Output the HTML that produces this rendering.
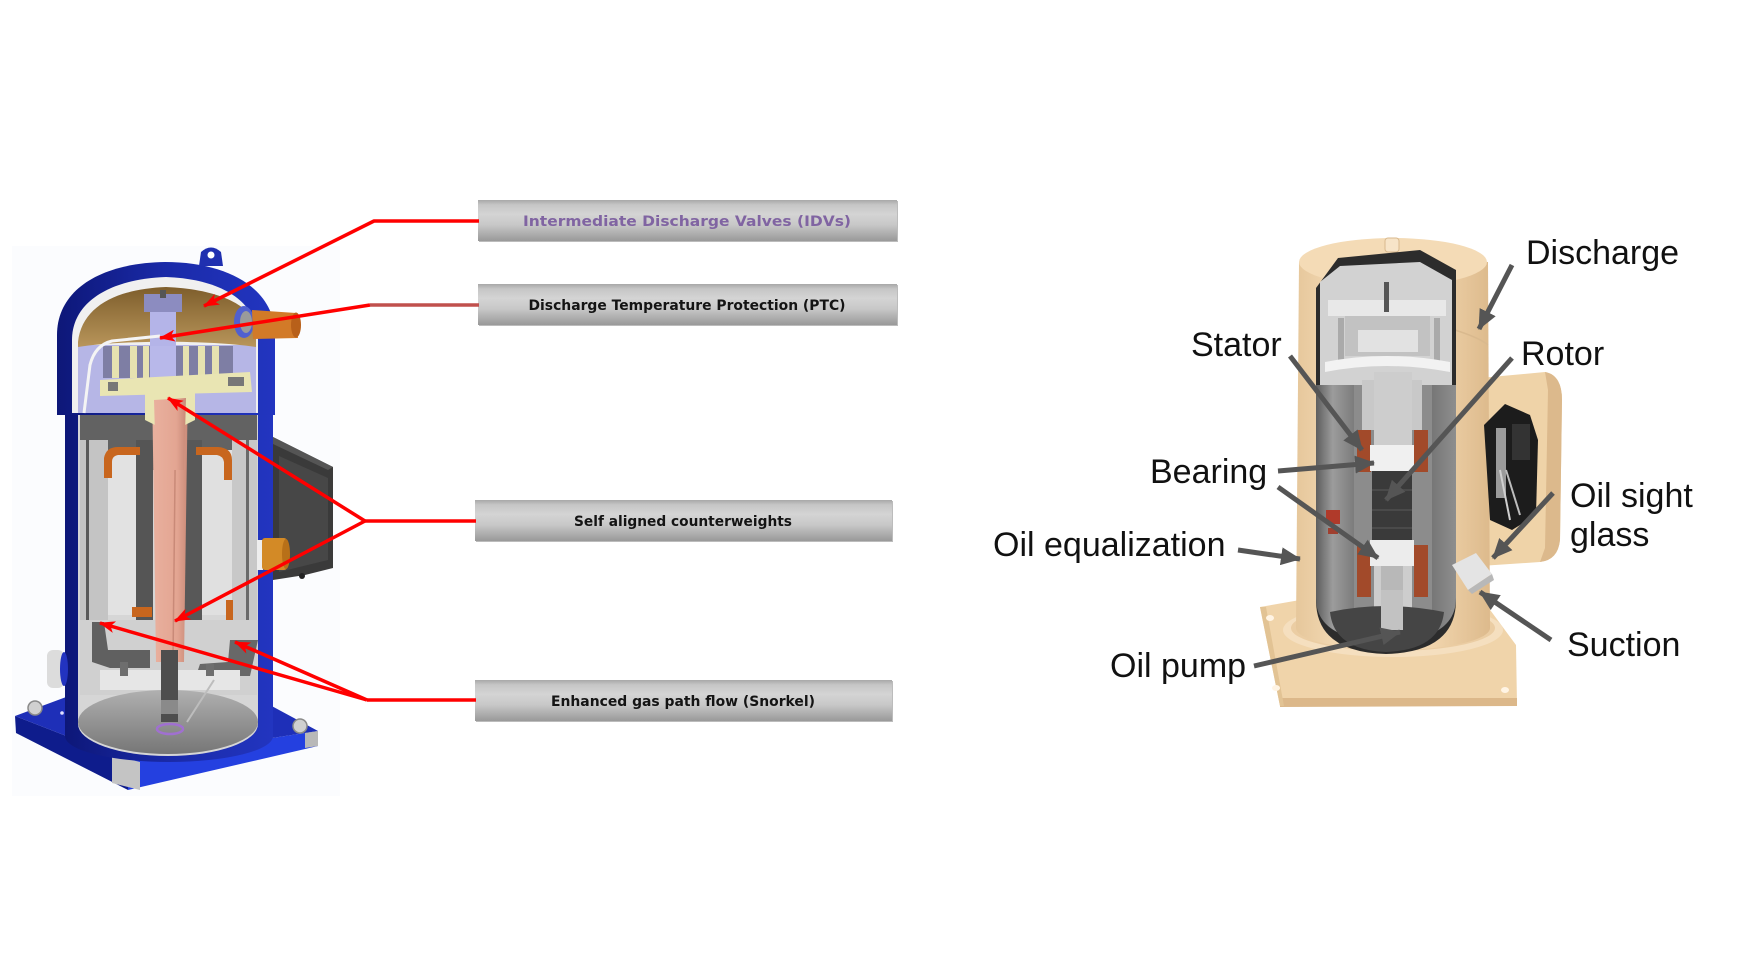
<!DOCTYPE html>
<html>
<head>
<meta charset="utf-8">
<style>
  html,body{margin:0;padding:0;background:#ffffff;}
  body{width:1750px;height:979px;overflow:hidden;}
  svg{display:block;}
  .bx{font-family:"DejaVu Sans","Liberation Sans",sans-serif;font-weight:bold;font-size:14.5px;fill:#141414;}
  .lb{font-family:"Liberation Sans",Arial,sans-serif;font-size:34px;fill:#111111;}
</style>
</head>
<body>
<svg width="1750" height="979" viewBox="0 0 1750 979" xmlns="http://www.w3.org/2000/svg">
  <defs>
    <linearGradient id="boxg" x1="0" y1="0" x2="0" y2="1">
      <stop offset="0" stop-color="#a8a8a8"/>
      <stop offset="0.12" stop-color="#c6c6c6"/>
      <stop offset="0.35" stop-color="#d4d4d4"/>
      <stop offset="0.6" stop-color="#c8c8c8"/>
      <stop offset="1" stop-color="#999999"/>
    </linearGradient>
    <linearGradient id="shellL" x1="0" y1="0" x2="1" y2="0">
      <stop offset="0" stop-color="#0d1778"/>
      <stop offset="0.5" stop-color="#1a2aa8"/>
      <stop offset="1" stop-color="#2235c0"/>
    </linearGradient>
    <linearGradient id="floorg" x1="0" y1="0" x2="0" y2="1">
      <stop offset="0" stop-color="#b0b0b0"/>
      <stop offset="1" stop-color="#767676"/>
    </linearGradient>
    <linearGradient id="browng" x1="0" y1="0" x2="0" y2="1">
      <stop offset="0" stop-color="#7e5e2c"/>
      <stop offset="1" stop-color="#b8955a"/>
    </linearGradient>
    <linearGradient id="beigeCyl" x1="0" y1="0" x2="1" y2="0">
      <stop offset="0" stop-color="#e6c79b"/>
      <stop offset="0.25" stop-color="#f5dcb8"/>
      <stop offset="0.7" stop-color="#f1d5ad"/>
      <stop offset="1" stop-color="#ddba8c"/>
    </linearGradient>
    <linearGradient id="motorg" x1="0" y1="0" x2="1" y2="0">
      <stop offset="0" stop-color="#5e5e5e"/>
      <stop offset="0.12" stop-color="#9c9c9c"/>
      <stop offset="0.28" stop-color="#7a7a7a"/>
      <stop offset="0.75" stop-color="#6c6c6c"/>
      <stop offset="1" stop-color="#8e8e8e"/>
    </linearGradient>
    <linearGradient id="pinkg" x1="0" y1="0" x2="1" y2="0">
      <stop offset="0" stop-color="#e9b09e"/>
      <stop offset="0.7" stop-color="#e3a592"/>
      <stop offset="1" stop-color="#c98a78"/>
    </linearGradient>
    <marker id="ra" markerWidth="16" markerHeight="12" refX="15" refY="6" orient="auto" markerUnits="userSpaceOnUse">
      <path d="M0,0 L16,6 L0,12 L4,6 z" fill="#ff0000"/>
    </marker>
    <marker id="ga" markerWidth="20" markerHeight="18" refX="19" refY="9" orient="auto" markerUnits="userSpaceOnUse">
      <path d="M0,0 L20,9 L0,18 z" fill="#555555"/>
    </marker>
  </defs>

  <!-- faint photo background left -->
  <rect x="12" y="246" width="328" height="550" fill="#fbfcfe"/>

  <!-- ================= LEFT COMPRESSOR ================= -->
  <!-- base plate -->
  <polygon points="15,716 128,760 128,790 16,733" fill="#0e1c8c"/>
  <polygon points="128,760 318,731 318,746 128,790" fill="#2440e0"/>
  <polygon points="15,716 85,690 255,697 318,731 128,760" fill="#1e2fb8"/>
  <polygon points="112,755 140,762 140,790 112,783" fill="#c4c4c4"/>
  <polygon points="305,733 318,731 318,746 305,748" fill="#b8b8b8"/>
  <circle cx="35" cy="708" r="7" fill="#d0d0d0" stroke="#8a8a8a" stroke-width="1.5"/>
  <circle cx="127" cy="750" r="7" fill="#d0d0d0" stroke="#8a8a8a" stroke-width="1.5"/>
  <circle cx="300" cy="726" r="7" fill="#d0d0d0" stroke="#8a8a8a" stroke-width="1.5"/>
  <circle cx="62" cy="713" r="1.8" fill="#e0e0ff"/>
  <circle cx="270" cy="729" r="1.8" fill="#e0e0ff"/>

  <!-- lower shell -->
  <path d="M65,400 L65,736 A104,26 0 0 0 273,736 L273,400 Z" fill="url(#shellL)"/>
  <path d="M78,395 L78,724 A90,32 0 0 0 258,724 L258,395 Z" fill="#d6d6d6"/>
  <!-- inner structure -->
  <rect x="80" y="395" width="177" height="75" fill="#626262"/>
  <rect x="80" y="440" width="28" height="215" fill="#c4c4c4"/>
  <rect x="86" y="440" width="3" height="215" fill="#5a5a5a"/>
  <rect x="108" y="450" width="28" height="165" fill="#e2e2e2"/>
  <rect x="136" y="440" width="17" height="200" fill="#555555"/>
  <rect x="183" y="440" width="19" height="200" fill="#585858"/>
  <rect x="202" y="450" width="30" height="165" fill="#e0e0e0"/>
  <rect x="232" y="440" width="25" height="215" fill="#c8c8c8"/>
  <rect x="246" y="440" width="3" height="215" fill="#6a6a6a"/>
  <!-- orange end turns -->
  <path d="M104,478 L104,458 Q106,447 118,447 L140,447 L140,455 L118,455 Q112,456 112,462 L112,478 Z" fill="#c8661e"/>
  <path d="M196,455 L196,447 L218,447 Q232,448 232,460 L232,480 L224,480 L224,462 Q223,456 217,455 Z" fill="#c8661e"/>
  <rect x="132" y="607" width="20" height="10" fill="#c8661e"/>
  <rect x="226" y="600" width="7" height="40" fill="#c8661e"/>
  <!-- lower bearing housing -->
  <rect x="80" y="620" width="177" height="75" fill="#d0d0d0"/>
  <path d="M92,622 L92,662 L110,668 L150,668 L150,650 L108,650 L104,622 Z" fill="#606060"/>
  <path d="M258,640 L230,640 L228,662 L200,664 L196,676 L250,676 Z" fill="#686868"/>
  <rect x="100" y="670" width="140" height="20" fill="#e6e6e6"/>
  <rect x="120" y="662" width="8" height="14" fill="#6e6e6e"/>
  <rect x="206" y="664" width="8" height="12" fill="#6e6e6e"/>
  <!-- floor -->
  <ellipse cx="168" cy="722" rx="90" ry="32" fill="url(#floorg)"/>
  <!-- shaft -->
  <polygon points="152,380 188,380 184,662 156,662" fill="url(#pinkg)"/>
  <line x1="176" y1="385" x2="173" y2="660" stroke="#c98a78" stroke-width="1.5"/>
  <rect x="161" y="650" width="17" height="72" fill="#4e4e4e"/>
  <rect x="161" y="700" width="17" height="14" fill="#8a8a8a"/>
  <ellipse cx="170" cy="729" rx="13" ry="5" fill="none" stroke="#a070d0" stroke-width="2.5"/>
  <line x1="214" y1="680" x2="187" y2="722" stroke="#bdbdbd" stroke-width="2"/>

  <!-- upper cap -->
  <path d="M57,415 L57,335 C57,290 100,263 165,262 C230,262 275,290 275,335 L275,415 Z" fill="url(#shellL)"/>
  <path d="M72,413 L72,340 C72,302 110,279 166,277 C222,279 258,302 258,340 L258,413 Z" fill="#f0f0f0"/>
  <path d="M78,413 L78,345 L256,345 L256,413 Z" fill="#b6b6e6"/>
  <path d="M78,342 C82,306 117,289 166,287 C216,289 250,304 256,326 L256,347 C210,340 120,340 78,347 Z" fill="url(#browng)"/>
  <!-- discharge column -->
  <rect x="150" y="300" width="26" height="75" fill="#b4b4e8"/>
  <rect x="144" y="294" width="38" height="18" fill="#8c8cc0"/>
  <rect x="160" y="290" width="6" height="8" fill="#555"/>
  <!-- fins -->
  <rect x="103" y="346" width="130" height="32" fill="#7e7ea4"/>
  <rect x="112" y="346" width="7" height="32" fill="#e6e2b0"/>
  <rect x="130" y="346" width="7" height="32" fill="#e6e2b0"/>
  <rect x="143" y="346" width="6" height="32" fill="#e6e2b0"/>
  <rect x="183" y="346" width="6" height="32" fill="#e6e2b0"/>
  <rect x="198" y="346" width="7" height="32" fill="#e6e2b0"/>
  <rect x="212" y="346" width="7" height="32" fill="#e6e2b0"/>
  <rect x="150" y="346" width="26" height="32" fill="#b8b8ea"/>
  <!-- yellow plate -->
  <polygon points="100,380 250,372 252,392 100,396" fill="#e9e5b3"/>
  <polygon points="145,394 195,392 195,420 185,425 155,425 145,420" fill="#e9e5b3"/>
  <polygon points="154,400 186,398 184,470 156,470" fill="url(#pinkg)"/>
  <rect x="228" y="377" width="16" height="9" fill="#777"/>
  <rect x="108" y="382" width="10" height="9" fill="#777"/>
  <!-- white tube -->
  <path d="M160,336 L112,341 Q95,345 90,365 L84,413" fill="none" stroke="#f4f4f4" stroke-width="3"/>
  <!-- mounting tab -->
  <path d="M199,266 L201,252 Q211,243 221,252 L223,266 Z" fill="#2030b0"/>
  <circle cx="211" cy="255" r="3.5" fill="#ffffff"/>
  <!-- discharge fitting -->
  <ellipse cx="244" cy="322" rx="10" ry="16" fill="#5060d0"/>
  <ellipse cx="246" cy="322" rx="6" ry="11" fill="#9a9a9a"/>
  <polygon points="252,310 296,313 298,338 253,339" fill="#d27a28"/>
  <ellipse cx="296" cy="325" rx="5" ry="12.5" fill="#b8601a"/>
  <!-- terminal box -->
  <polygon points="273,437 333,467 333,568 305,575 273,580" fill="#3a3a3a"/>
  <polygon points="279,456 328,478 328,560 279,572" fill="#474747"/>
  <polygon points="273,437 333,467 328,470 273,444" fill="#555"/>
  <circle cx="302" cy="576" r="3" fill="#222"/>
  <!-- right orange fitting -->
  <rect x="257" y="540" width="6" height="30" fill="#eeeeee"/>
  <rect x="262" y="538" width="25" height="32" rx="3" fill="#d38a26"/>
  <ellipse cx="286" cy="554" rx="4" ry="15" fill="#b87018"/>
  <!-- left fitting -->
  <rect x="47" y="650" width="17" height="38" rx="6" fill="#dcdcdc"/>
  <ellipse cx="64" cy="669" rx="4" ry="17" fill="#2233c0"/>

  <!-- ================= CALLOUT BOXES ================= -->
  <rect x="479" y="201" width="419" height="41" fill="#bcbcbc"/>
  <rect x="478" y="200" width="419" height="41" fill="url(#boxg)"/>
  <rect x="479" y="285" width="419" height="41" fill="#bcbcbc"/>
  <rect x="478" y="284" width="419" height="41" fill="url(#boxg)"/>
  <rect x="476" y="501" width="417" height="41" fill="#bcbcbc"/>
  <rect x="475" y="500" width="417" height="41" fill="url(#boxg)"/>
  <rect x="476" y="681" width="417" height="41" fill="#bcbcbc"/>
  <rect x="475" y="680" width="417" height="41" fill="url(#boxg)"/>

  <text class="bx" x="687" y="226" text-anchor="middle" textLength="328" lengthAdjust="spacingAndGlyphs" style="fill:#8064a2">Intermediate Discharge Valves (IDVs)</text>
  <text class="bx" x="687" y="310" text-anchor="middle" textLength="317" lengthAdjust="spacingAndGlyphs">Discharge Temperature Protection (PTC)</text>
  <text class="bx" x="683" y="526" text-anchor="middle" textLength="218" lengthAdjust="spacingAndGlyphs">Self aligned counterweights</text>
  <text class="bx" x="683" y="706" text-anchor="middle" textLength="264" lengthAdjust="spacingAndGlyphs">Enhanced gas path flow (Snorkel)</text>

  <!-- red leaders -->
  <g fill="none" stroke="#ff0000" stroke-width="3.5" stroke-linejoin="round">
    <polyline points="479,221 374,221 204,306" marker-end="url(#ra)"/>
    <line x1="370" y1="305" x2="160" y2="338" marker-end="url(#ra)"/>
    <line x1="476" y1="521" x2="365" y2="521"/>
    <line x1="365" y1="521" x2="168" y2="398" marker-end="url(#ra)"/>
    <line x1="365" y1="521" x2="175" y2="621" marker-end="url(#ra)"/>
    <line x1="476" y1="700" x2="367" y2="700"/>
    <line x1="367" y1="700" x2="100" y2="623" marker-end="url(#ra)"/>
    <line x1="367" y1="700" x2="235" y2="642" marker-end="url(#ra)"/>
  </g>
  <line x1="370" y1="305" x2="479" y2="305" stroke="#c0504d" stroke-width="3.5"/>

  <!-- ================= RIGHT COMPRESSOR ================= -->
  <!-- base plate -->
  <polygon points="1260,607 1300,600 1485,603 1516,645 1517,705 1280,706" fill="#f0d4aa"/>
  <polygon points="1280,698 1517,698 1517,706 1280,707" fill="#dcb88a"/>
  <polygon points="1260,607 1280,706 1284,706 1266,607" fill="#e2c394"/>
  <ellipse cx="1276" cy="688" rx="4" ry="3" fill="#fff4e4"/>
  <ellipse cx="1505" cy="690" rx="4" ry="3" fill="#fff4e4"/>
  <ellipse cx="1270" cy="618" rx="4" ry="3" fill="#fff4e4"/>
  <!-- flange ring -->
  <ellipse cx="1393" cy="630" rx="110" ry="27" fill="#f5dfbf"/>
  <ellipse cx="1393" cy="628" rx="102" ry="23" fill="#ebcda3"/>
  <!-- terminal box -->
  <path d="M1480,378 L1545,372 Q1562,375 1562,400 L1560,540 Q1558,560 1540,562 L1480,566 Z" fill="#efd3a8"/>
  <path d="M1545,372 Q1562,375 1562,400 L1560,540 Q1558,560 1540,562 L1545,548 L1548,390 Z" fill="#dcb98c"/>
  <!-- cylinder -->
  <path d="M1299,262 L1296,628 A97,22 0 0 0 1490,628 L1488,262 Z" fill="url(#beigeCyl)"/>
  <ellipse cx="1393" cy="262" rx="94" ry="24" fill="#f4dbb6"/>
  <rect x="1385" y="238" width="14" height="14" rx="3" fill="#f7e4c8" stroke="#d8b98e" stroke-width="1"/>
  <path d="M1455,330 Q1480,338 1488,345" fill="none" stroke="#d9b98e" stroke-width="1.5"/>
  <!-- terminal box opening -->
  <path d="M1484,425 L1505,404 L1530,415 L1538,440 L1536,515 L1512,530 L1490,520 Z" fill="#1c1c1c"/>
  <rect x="1496" y="428" width="10" height="70" fill="#9a9a9a"/>
  <rect x="1512" y="424" width="18" height="36" fill="#333"/>
  <line x1="1500" y1="470" x2="1510" y2="520" stroke="#cfcfcf" stroke-width="2"/>
  <line x1="1506" y1="470" x2="1520" y2="515" stroke="#bdbdbd" stroke-width="2"/>
  <!-- cutaway interior -->
  <path d="M1316,288 L1338,258 L1420,250 L1456,270 L1456,600 Q1456,652 1386,654 Q1316,652 1316,600 Z" fill="#2c2c2c"/>
  <!-- upper mechanism -->
  <path d="M1320,282 L1340,266 L1420,262 L1452,280 L1452,390 L1320,390 Z" fill="#d2d2d2"/>
  <rect x="1328" y="300" width="118" height="16" fill="#e8e8e8"/>
  <rect x="1345" y="316" width="85" height="40" fill="#c2c2c2"/>
  <rect x="1358" y="330" width="60" height="22" fill="#e2e2e2"/>
  <rect x="1384" y="282" width="5" height="30" fill="#555"/>
  <rect x="1338" y="318" width="6" height="50" fill="#aaaaaa"/>
  <rect x="1434" y="318" width="6" height="50" fill="#aaaaaa"/>
  <path d="M1325,362 Q1386,350 1450,362 L1450,372 Q1386,360 1325,372 Z" fill="#f2f2f2"/>
  <!-- motor shell -->
  <path d="M1316,385 L1456,385 L1456,598 Q1456,640 1386,642 Q1316,640 1316,598 Z" fill="url(#motorg)"/>
  <!-- motor cutaway inside -->
  <path d="M1354,385 L1432,385 L1432,610 L1354,610 Z" fill="#8c8c8c"/>
  <rect x="1362" y="380" width="60" height="50" fill="#c8c8c8"/>
  <rect x="1374" y="372" width="38" height="275" fill="#cdcdcd"/>
  <rect x="1357" y="430" width="14" height="42" fill="#a24a2a"/>
  <rect x="1414" y="430" width="14" height="42" fill="#a24a2a"/>
  <rect x="1357" y="545" width="14" height="52" fill="#a24a2a"/>
  <rect x="1414" y="545" width="14" height="52" fill="#a24a2a"/>
  <rect x="1370" y="445" width="44" height="26" fill="#f0f0f0"/>
  <rect x="1372" y="471" width="40" height="72" fill="#3a3a3a"/>
  <line x1="1372" y1="490" x2="1412" y2="490" stroke="#4a4a4a" stroke-width="2"/>
  <line x1="1372" y1="510" x2="1412" y2="510" stroke="#4a4a4a" stroke-width="2"/>
  <line x1="1372" y1="528" x2="1412" y2="528" stroke="#4a4a4a" stroke-width="2"/>
  <rect x="1370" y="540" width="44" height="26" fill="#ececec"/>
  <rect x="1381" y="566" width="22" height="72" fill="#b8b8b8"/>
  <path d="M1330,612 Q1386,600 1444,612 Q1440,650 1386,652 Q1334,650 1330,612 Z" fill="#454545"/>
  <rect x="1381" y="590" width="22" height="40" fill="#c2c2c2"/>
  <rect x="1326" y="510" width="14" height="14" fill="#b03a2a"/>
  <rect x="1328" y="528" width="10" height="6" fill="#a04030"/>
  <!-- suction fitting -->
  <polygon points="1452,565 1476,553 1492,574 1468,590" fill="#e4e4e4"/>
  <polygon points="1468,590 1492,574 1494,580 1472,594" fill="#b8b8b8"/>

  <!-- gray arrows -->
  <g stroke="#555555" stroke-width="5" fill="none" stroke-linecap="butt">
    <line x1="1512" y1="265" x2="1479" y2="329" marker-end="url(#ga)"/>
    <line x1="1512" y1="358" x2="1386" y2="500" marker-end="url(#ga)"/>
    <line x1="1290" y1="356" x2="1362" y2="450" marker-end="url(#ga)"/>
    <line x1="1278" y1="471" x2="1374" y2="463" marker-end="url(#ga)"/>
    <line x1="1278" y1="487" x2="1378" y2="558" marker-end="url(#ga)"/>
    <line x1="1238" y1="550" x2="1300" y2="559" marker-end="url(#ga)"/>
    <line x1="1254" y1="666" x2="1400" y2="632" marker-end="url(#ga)"/>
    <line x1="1553" y1="493" x2="1493" y2="558" marker-end="url(#ga)"/>
    <line x1="1551" y1="640" x2="1480" y2="592" marker-end="url(#ga)"/>
  </g>

  <!-- labels -->
  <text class="lb" x="1526" y="264">Discharge</text>
  <text class="lb" x="1521" y="365">Rotor</text>
  <text class="lb" x="1191" y="356">Stator</text>
  <text class="lb" x="1150" y="483">Bearing</text>
  <text class="lb" x="993" y="556">Oil equalization</text>
  <text class="lb" x="1570" y="507">Oil sight</text>
  <text class="lb" x="1570" y="546">glass</text>
  <text class="lb" x="1567" y="656">Suction</text>
  <text class="lb" x="1110" y="677">Oil pump</text>
</svg>
</body>
</html>
